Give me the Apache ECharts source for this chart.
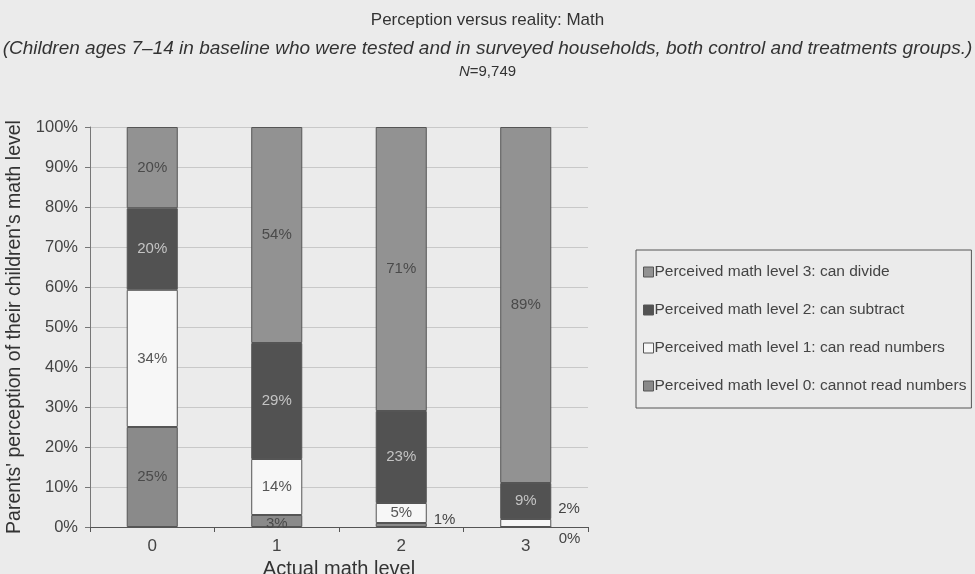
<!DOCTYPE html>
<html><head><meta charset="utf-8">
<script src="https://cdn.jsdelivr.net/npm/echarts@6/dist/echarts.min.js"></script>
<style>html,body{margin:0;padding:0;background:#ebebeb}#c{width:975px;height:574px}</style>
</head><body><div id="c"></div>
<script>
const categories = ['0','1','2','3'];
const level0 = [25, 3, 1, 0];
const level1 = [34.3, 14, 5, 2];
const level2 = [20.4, 29, 23, 9];
const level3 = [20.3, 54, 71, 89];
const yTicks = ['0%','10%','20%','30%','40%','50%','60%','70%','80%','90%','100%'];
const names = [
  'Perceived math level 0: cannot read numbers',
  'Perceived math level 1: can read numbers',
  'Perceived math level 2: can subtract',
  'Perceived math level 3: can divide'
];
const FONT = 'Liberation Sans, Arial, sans-serif';
const colors = ['#8a8a8a', '#f7f7f7', '#525252', '#929292'];
const textColors = ['#4a4a4a', '#555', '#c4c4c4', '#4a4a4a'];
const series = [level0, level1, level2, level3].map((arr, si) => ({
  name: names[si],
  type: 'bar',
  stack: 'a',
  barWidth: '41%',
  itemStyle: {color: colors[si], borderColor: '#555', borderWidth: 1},
  label: {show: true, position: 'inside', formatter: p => Math.round(p.value) + '%', color: textColors[si], fontSize: 15, fontFamily: FONT},
  data: arr.map((v, i) => {
    const d = {value: v};
    if (v < 3) {
      d.label = {position: 'right', color: '#444', distance: 7};
      if (si === 1 && i === 3) d.label.offset = [0, -14];
      if (si === 0 && i === 3) d.label.offset = [0, 12];
      if (si === 0 && i === 2) d.label.offset = [0, -5];
    }
    if (si === 0 && i === 1) d.label = {offset: [0, 3]};
    return d;
  })
}));
const chart = echarts.init(document.getElementById('c'));
chart.setOption({
  backgroundColor: '#ebebeb',
  animation: false,
  title: [
    {text: 'Perception versus reality: Math', left: 'center', top: 7, textStyle: {fontFamily: FONT, fontWeight: 'normal', fontSize: 17, color: '#333'}},
    {text: '(Children ages 7–14 in baseline who were tested and in surveyed households, both control and treatments groups.)', left: 'center', top: 34, textStyle: {fontFamily: FONT, fontStyle: 'italic', fontWeight: 'normal', fontSize: 19, color: '#333'}},
    {text: '{i|N}=9,749', left: 'center', top: 59, textStyle: {fontFamily: FONT, fontWeight: 'normal', fontSize: 15, color: '#333', rich: {i: {fontStyle: 'italic', fontSize: 15, fontFamily: FONT, color: '#333'}}}}
  ],
  legend: {
    orient: 'vertical', left: 636, top: 250, width: 337, height: 155,
    data: [names[3], names[2], names[1], names[0]],
    itemWidth: 10, itemHeight: 10, itemGap: 22, itemStyle: {borderColor: '#555', borderWidth: 1},
    icon: 'rect',
    padding: [14, 5, 14, 7],
    borderColor: '#555', borderWidth: 1,
    textStyle: {fontFamily: FONT, fontSize: 15.5, color: '#444', padding: [0, 0, 0, -4]}
  },
  grid: {left: 90, top: 127, width: 498, height: 400, outerBoundsMode: 'none', containLabel: false},
  xAxis: {
    type: 'category', data: categories,
    name: 'Actual math level', nameLocation: 'middle', nameGap: 29,
    nameTextStyle: {fontFamily: FONT, fontSize: 20, color: '#333'},
    axisLine: {lineStyle: {color: '#555'}},
    axisTick: {show: true, length: 5, lineStyle: {color: '#555'}},
    axisLabel: {fontFamily: FONT, fontSize: 17, color: '#444', margin: 11}
  },
  yAxis: {
    type: 'value', min: 0, max: 100, interval: 10,
    name: "Parents' perception of their children's math level", nameLocation: 'middle', nameGap: 64,
    nameTextStyle: {fontFamily: FONT, fontSize: 19.5, color: '#333'},
    axisLine: {show: true, lineStyle: {color: '#777'}},
    axisTick: {show: true, length: 5, lineStyle: {color: '#777'}},
    splitLine: {lineStyle: {color: '#c8c8c8'}},
    axisLabel: {fontFamily: FONT, fontSize: 16.5, color: '#444', margin: 12,
      formatter: v => yTicks[Math.round(v / 10)]}
  },
  series: series
});
</script></body></html>
